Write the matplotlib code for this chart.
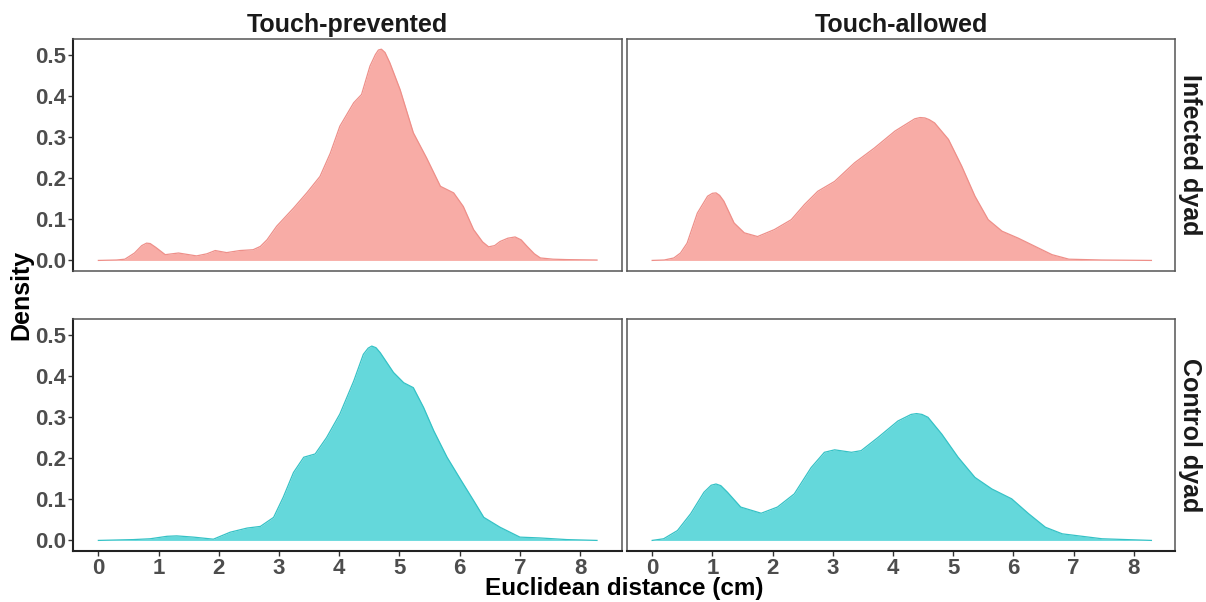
import matplotlib
matplotlib.use("Agg")
import matplotlib.pyplot as plt

plt.rcParams['font.family'] = ['Liberation Sans', 'DejaVu Sans']

# density curves read per panel: (distance, density)
inf_prev_x = [0.0, 0.3, 0.44, 0.6, 0.72, 0.8, 0.86, 0.95, 1.11, 1.33, 1.5, 1.63, 1.8, 1.94, 2.13,
              2.35, 2.57, 2.69, 2.8, 2.96, 3.1, 3.24, 3.46, 3.68, 3.85, 4.01, 4.24, 4.37, 4.51,
              4.6, 4.65, 4.7, 4.76, 4.84, 5.01, 5.23, 5.45, 5.68, 5.9, 6.06, 6.23, 6.38, 6.48,
              6.58, 6.67, 6.8, 6.92, 7.02, 7.12, 7.24, 7.34, 7.55, 7.78, 8.28]
inf_prev_y = [0.0, 0.001, 0.003, 0.018, 0.036, 0.042, 0.041, 0.032, 0.014, 0.018, 0.014, 0.011,
              0.016, 0.024, 0.019, 0.024, 0.026, 0.034, 0.05, 0.083, 0.105, 0.127, 0.164, 0.204,
              0.26, 0.326, 0.383, 0.403, 0.472, 0.5, 0.511, 0.513, 0.505, 0.48, 0.415, 0.31,
              0.249, 0.18, 0.164, 0.131, 0.075, 0.045, 0.033, 0.036, 0.046, 0.054, 0.057, 0.05,
              0.034, 0.016, 0.006, 0.003, 0.002, 0.001]

inf_allow_x = [0.0, 0.2, 0.36, 0.47, 0.58, 0.75, 0.92, 1.0, 1.06, 1.12, 1.19, 1.36, 1.53, 1.75,
               2.03, 2.31, 2.53, 2.75, 3.03, 3.36, 3.69, 4.03, 4.36, 4.45, 4.53, 4.6, 4.69, 4.92,
               5.14, 5.36, 5.58, 5.81, 6.08, 6.36, 6.64, 6.92, 7.47, 8.29]
inf_allow_y = [0.0, 0.001, 0.006, 0.018, 0.042, 0.115, 0.156, 0.163, 0.164, 0.158, 0.144, 0.091,
               0.067, 0.058, 0.075, 0.099, 0.136, 0.168, 0.192, 0.237, 0.273, 0.314, 0.344,
               0.347, 0.346, 0.342, 0.334, 0.294, 0.229, 0.156, 0.099, 0.071, 0.054, 0.034,
               0.014, 0.003, 0.001, 0.0]

ctl_prev_x = [0.0, 0.58, 0.86, 1.14, 1.3, 1.58, 1.91, 2.19, 2.47, 2.69, 2.91, 3.07, 3.24, 3.41,
              3.6, 3.79, 4.01, 4.24, 4.4, 4.48, 4.54, 4.61, 4.68, 4.9, 5.07, 5.23, 5.4, 5.57,
              5.79, 6.01, 6.23, 6.4, 6.67, 7.0, 7.33, 7.78, 8.28]
ctl_prev_y = [0.0, 0.002, 0.004, 0.01, 0.011, 0.008, 0.003, 0.02, 0.03, 0.034, 0.056, 0.105,
              0.165, 0.202, 0.21, 0.25, 0.307, 0.387, 0.452, 0.467, 0.472, 0.468, 0.456, 0.408,
              0.383, 0.371, 0.323, 0.266, 0.202, 0.149, 0.097, 0.056, 0.032, 0.008, 0.006,
              0.002, 0.0]

ctl_allow_x = [0.0, 0.19, 0.42, 0.64, 0.86, 0.98, 1.06, 1.14, 1.25, 1.47, 1.81, 2.08, 2.36,
               2.64, 2.86, 3.03, 3.31, 3.47, 3.75, 4.08, 4.3, 4.39, 4.48, 4.58, 4.81, 5.08,
               5.36, 5.64, 5.97, 6.25, 6.53, 6.81, 7.14, 7.47, 8.29]
ctl_allow_y = [0.0, 0.004, 0.024, 0.065, 0.117, 0.134, 0.137, 0.133, 0.117, 0.081, 0.066, 0.081,
               0.113, 0.177, 0.214, 0.22, 0.214, 0.218, 0.25, 0.29, 0.306, 0.308, 0.306, 0.299,
               0.258, 0.202, 0.153, 0.125, 0.101, 0.065, 0.032, 0.016, 0.01, 0.004, 0.0]

col_labels = ['Touch-prevented', 'Touch-allowed']
row_labels = ['Infected dyad', 'Control dyad']
x_ticks = [0, 1, 2, 3, 4, 5, 6, 7, 8]
y_ticks = [0.0, 0.1, 0.2, 0.3, 0.4, 0.5]

panels = [[(inf_prev_x, inf_prev_y), (inf_allow_x, inf_allow_y)],
          [(ctl_prev_x, ctl_prev_y), (ctl_allow_x, ctl_allow_y)]]
fills = ['#F8ACA6', '#64D8DB']
edges = ['#EE8F89', '#35C2C6']

fig = plt.figure(figsize=(12.06, 6.02), dpi=100)
lefts = [0.0609, 0.5201]
bottoms = [0.5503, 0.0852]
w, h = 0.4546, 0.3844
tick_col = '#4D4D4D'

for r in range(2):
    for c in range(2):
        ax = fig.add_axes([lefts[c], bottoms[r], w, h])
        xs, ys = panels[r][c]
        ax.fill_between(xs, 0, ys, color=fills[r], lw=0)
        ax.plot(xs, ys, color=edges[r], lw=0.9, solid_joinstyle='round')
        ax.set_xlim(-0.414, 8.69)
        ax.set_ylim(-0.025, 0.537)
        ax.set_xticks(x_ticks)
        ax.set_yticks(y_ticks)
        for s in ax.spines.values():
            s.set_color('#555555')
            s.set_linewidth(1.1)
        ax.tick_params(length=3.5, width=1, color='#333333', labelsize=16,
                       labelcolor=tick_col, pad=2)
        for lab in ax.get_xticklabels() + ax.get_yticklabels():
            lab.set_fontweight('bold')
        if r == 0:
            ax.tick_params(axis='x', bottom=False, labelbottom=False)
            ax.set_title(col_labels[c], fontsize=18, fontweight='bold', color='#1A1A1A', pad=5)
        else:
            ax.spines['bottom'].set_color('#222222')
            ax.spines['bottom'].set_linewidth(1.5)
        if c == 1:
            ax.tick_params(axis='y', left=False, labelleft=False)
            ax.text(1.026, 0.5, row_labels[r], transform=ax.transAxes, rotation=-90,
                    ha='center', va='center', fontsize=18, fontweight='bold', color='#1A1A1A')
        else:
            ax.spines['left'].set_color('#222222')
            ax.spines['left'].set_linewidth(1.5)
            ax.set_yticklabels(['%.1f' % v for v in y_ticks])

fig.text(0.018, 0.51, 'Density', rotation=90, ha='center', va='center',
         fontsize=18, fontweight='bold')
fig.text(0.518, 0.022, 'Euclidean distance (cm)', ha='center', va='center',
         fontsize=17.5, fontweight='bold')

fig.savefig('out.png', dpi=100)
